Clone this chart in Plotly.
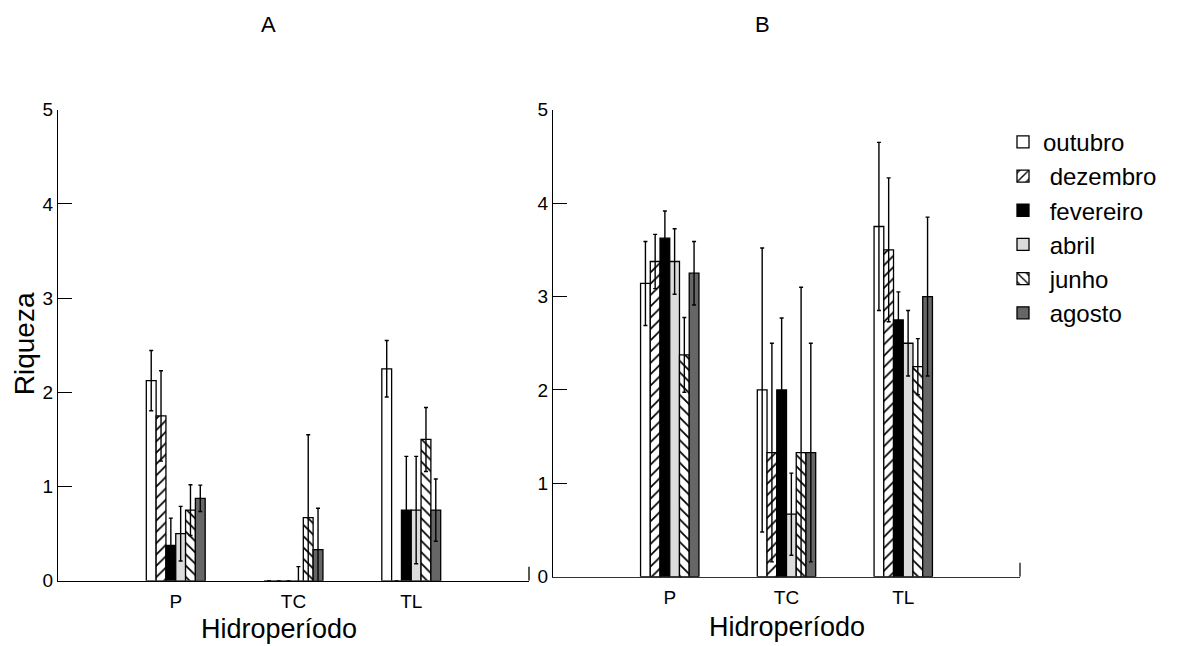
import plotly.graph_objects as go

categories = ["P", "TC", "TL"]
months = ["outubro", "dezembro", "fevereiro", "abril", "junho", "agosto"]
legend_names = ["outubro", "\u00a0dezembro", "\u00a0fevereiro", "\u00a0abril", "\u00a0junho", "\u00a0agosto"]

# Panel A: mean richness per month (P, TC, TL) and error
a_outubro = [2.125, 0.0, 2.25]
a_dezembro = [1.75, 0.0, 0.0]
a_fevereiro = [0.375, 0.0, 0.75]
a_abril = [0.5, 0.0, 0.75]
a_junho = [0.75, 0.67, 1.5]
a_agosto = [0.875, 0.33, 0.75]

a_err_outubro = [0.32, 0.0, 0.3]
a_err_dezembro = [0.48, 0.0, 0.0]
a_err_fevereiro = [0.29, 0.0, 0.57]
a_err_abril = [0.29, 0.15, 0.57]
a_err_junho = [0.27, 0.88, 0.34]
a_err_agosto = [0.14, 0.44, 0.33]

# Panel B
b_outubro = [3.14, 2.0, 3.75]
b_dezembro = [3.375, 1.33, 3.5]
b_fevereiro = [3.625, 2.0, 2.75]
b_abril = [3.375, 0.67, 2.5]
b_junho = [2.375, 1.33, 2.25]
b_agosto = [3.25, 1.33, 3.0]

b_err_outubro = [0.45, 1.52, 0.9]
b_err_dezembro = [0.29, 1.17, 0.77]
b_err_fevereiro = [0.29, 0.77, 0.3]
b_err_abril = [0.35, 0.44, 0.35]
b_err_junho = [0.4, 1.77, 0.3]
b_err_agosto = [0.34, 1.17, 0.85]

y_ticks = [0, 1, 2, 3, 4, 5]

a_vals = [a_outubro, a_dezembro, a_fevereiro, a_abril, a_junho, a_agosto]
a_errs = [a_err_outubro, a_err_dezembro, a_err_fevereiro, a_err_abril, a_err_junho, a_err_agosto]
b_vals = [b_outubro, b_dezembro, b_fevereiro, b_abril, b_junho, b_agosto]
b_errs = [b_err_outubro, b_err_dezembro, b_err_fevereiro, b_err_abril, b_err_junho, b_err_agosto]

styles = {
    "outubro": dict(color="white", pattern=None),
    "dezembro": dict(color="white", pattern="/"),
    "fevereiro": dict(color="black", pattern=None),
    "abril": dict(color="#dcdcdc", pattern=None),
    "junho": dict(color="white", pattern="\\"),
    "agosto": dict(color="#666666", pattern=None),
}

FONT = "Liberation Sans, Arial, sans-serif"
W, H = 1188, 660
OFF, S = 10.5, 0.966  # observed vertical placement of the figure in the final picture

fig = go.Figure()

def marker_for(m):
    st = styles[m]
    mk = dict(color=st["color"], line=dict(color="black", width=1.3))
    if st["pattern"]:
        mk["pattern"] = dict(shape=st["pattern"], fgcolor="black", bgcolor="white",
                             size=8, solidity=0.22, fillmode="replace")
    return mk

for i, m in enumerate(months):
    fig.add_trace(go.Bar(
        x=categories, y=a_vals[i], name=legend_names[i], legendgroup=m,
        showlegend=False, xaxis="x", yaxis="y", marker=marker_for(m),
        error_y=dict(type="data", array=a_errs[i], color="black", thickness=1.4, width=2),
    ))
for i, m in enumerate(months):
    fig.add_trace(go.Bar(
        x=categories, y=b_vals[i], name=legend_names[i], legendgroup=m,
        showlegend=True, xaxis="x2", yaxis="y2", marker=marker_for(m),
        error_y=dict(type="data", array=b_errs[i], color="black", thickness=1.4, width=2),
    ))

def px_x(p):
    return p / W

def px_y(p):
    return 1 - (p - OFF) / S / H

xa_common = dict(type="category", range=[-1, 3], showline=True, linewidth=1.3,
                 ticks="", showgrid=False, zeroline=False,
                 tickfont=dict(family=FONT, size=19, color="black"),
                 ticklabelstandoff=3, fixedrange=True)
ya_common = dict(range=[0, 5], tickvals=y_ticks, ticks="inside", ticklen=14,
                 tickwidth=1.3, tickcolor="black", showline=True, linecolor="black",
                 linewidth=1.3, showgrid=False, zeroline=False,
                 tickfont=dict(family=FONT, size=19, color="black"),
                 ticklabelstandoff=0, fixedrange=True)

fig.update_layout(
    width=W, height=H,
    margin=dict(l=0, r=0, t=0, b=0),
    paper_bgcolor="white", plot_bgcolor="white",
    barmode="group", bargap=0.5, bargroupgap=0,
    font=dict(family=FONT, color="black"),
    xaxis=dict(domain=[px_x(58), px_x(529)], anchor="y", linecolor="black", **xa_common),
    yaxis=dict(domain=[px_y(580), px_y(110)], anchor="x", **ya_common),
    xaxis2=dict(domain=[px_x(553), px_x(1020)], anchor="y2", linecolor="#333333", **xa_common),
    yaxis2=dict(domain=[px_y(576), px_y(110)], anchor="x2", **ya_common),
    legend=dict(x=px_x(1003), y=px_y(120), xanchor="left", yanchor="top",
                font=dict(family=FONT, size=24, color="black"), tracegroupgap=0,
                bgcolor="rgba(0,0,0,0)", itemclick=False, itemdoubleclick=False),
    showlegend=True,
)

# small upward ticks at the right end of each x axis
fig.add_shape(type="line", xref="x domain", yref="y", x0=1, x1=1, y0=0, y1=0.15,
              line=dict(color="black", width=1.3))
fig.add_shape(type="line", xref="x2 domain", yref="y2", x0=1, x1=1, y0=0, y1=0.15,
              line=dict(color="#333333", width=1.5))

ann = [
    dict(text="A", x=px_x(268), y=px_y(25), size=22, angle=0),
    dict(text="B", x=px_x(762), y=px_y(25), size=22, angle=0),
    dict(text="Riqueza", x=px_x(24), y=px_y(344), size=28, angle=-90),
    dict(text="Hidroperíodo", x=px_x(279), y=px_y(628), size=27, angle=0),
    dict(text="Hidroperíodo", x=px_x(787), y=px_y(626), size=27, angle=0),
]
for a in ann:
    fig.add_annotation(text=a["text"], x=a["x"], y=a["y"], xref="paper", yref="paper",
                       xanchor="center", yanchor="middle", showarrow=False,
                       textangle=a["angle"], font=dict(family=FONT, size=a["size"], color="black"))

fig.write_html("out.html", config={"displayModeBar": False},
               post_script="document.body.style.margin='0';")
